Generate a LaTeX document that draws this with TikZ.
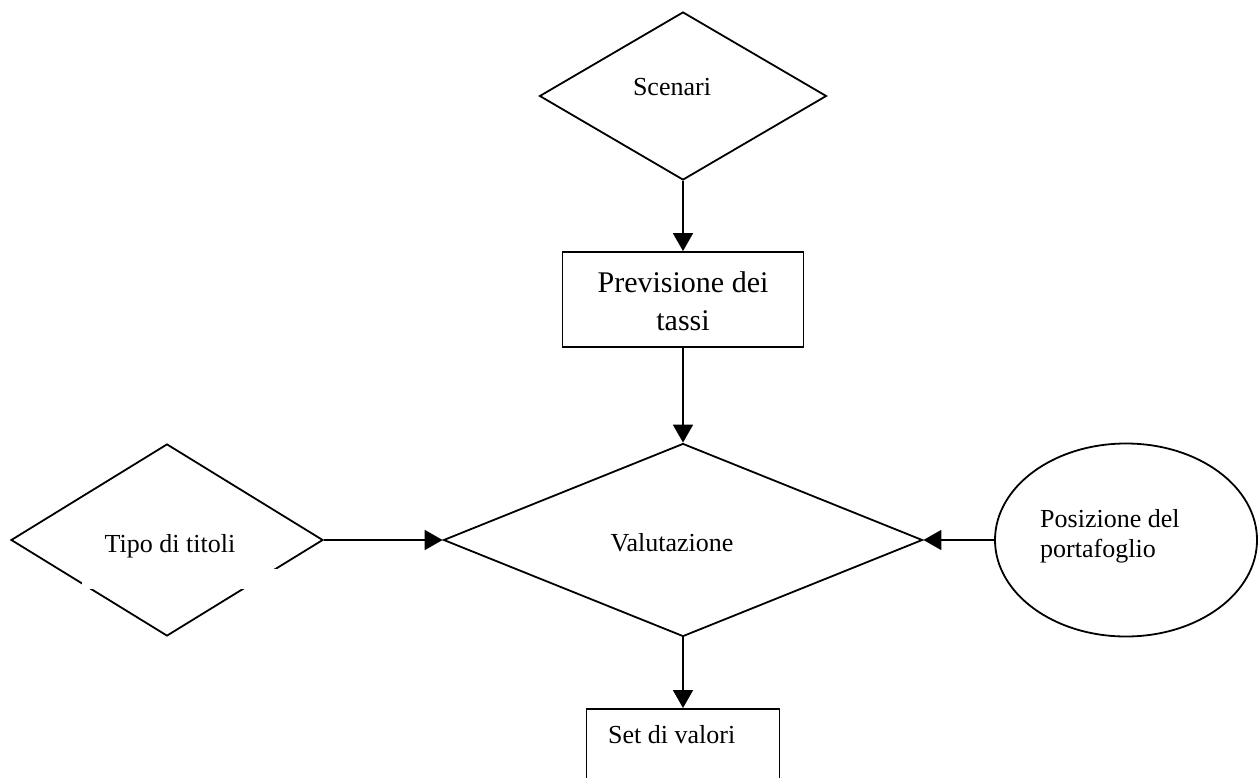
\documentclass[tikz,border=0pt]{standalone}
\usepackage{fontspec}
\setmainfont{Liberation Serif}
\usetikzlibrary{shapes.geometric,arrows.meta}

\begin{document}
\begin{tikzpicture}[x=1pt,y=-1pt,
    forma/.style={draw, line width=1.8pt, inner sep=0pt},
    rombo/.style={forma, diamond},
    scatola/.style={forma, rectangle},
    freccia/.style={-{Triangle[width=20pt,length=18pt]}, line width=1.8pt},
    testo/.style={font=\fontsize{26}{30}\selectfont, inner sep=0pt}]
    \fill[white] (0,0) rectangle (1258,778);
    \useasboundingbox (0,0) rectangle (1258,778);

    % Forme
    \node[rombo, minimum width=287pt, minimum height=168pt] (scenari) at (683,96) {};
    \node[scatola, minimum width=241pt, minimum height=95pt] (previsione) at (683,299.5) {};
    \node[rombo, minimum width=479pt, minimum height=193pt] (valutazione) at (683,540) {};
    \node[rombo, minimum width=312pt, minimum height=192pt] (tipo) at (167,540) {};
    \node[forma, ellipse, minimum width=262pt, minimum height=193pt] (posizione) at (1126,540) {};
    \node[scatola, anchor=north, minimum width=193pt, minimum height=110pt] (set) at (683,708) {};

    % interruzione sul rombo di sinistra
    \fill[white] (82,569) rectangle (277,589);

    % Testi
    \node[testo, anchor=base] (tscenari) at (672,96) {Scenari};
    \node[testo, anchor=base, align=center, font=\fontsize{30}{38}\selectfont] (tprevisione) at (683,330) {Previsione dei\\tassi};
    \node[testo, anchor=base] (tvalutazione) at (672,551) {Valutazione};
    \node[testo, anchor=base] (ttipo) at (170,552) {Tipo di titoli};
    \node[testo, anchor=base west, align=left] (tposizione) at (1040,557) {Posizione del\\portafoglio};
    \node[testo, anchor=base west] (tset) at (608,743) {Set di valori};

    % Frecce
    \foreach \da/\a in {scenari.south/previsione.north, previsione.south/valutazione.north, tipo.east/valutazione.west, posizione.west/valutazione.east, valutazione.south/set.north}
        \draw[freccia] (\da) -- (\a);
\end{tikzpicture}
\end{document}
